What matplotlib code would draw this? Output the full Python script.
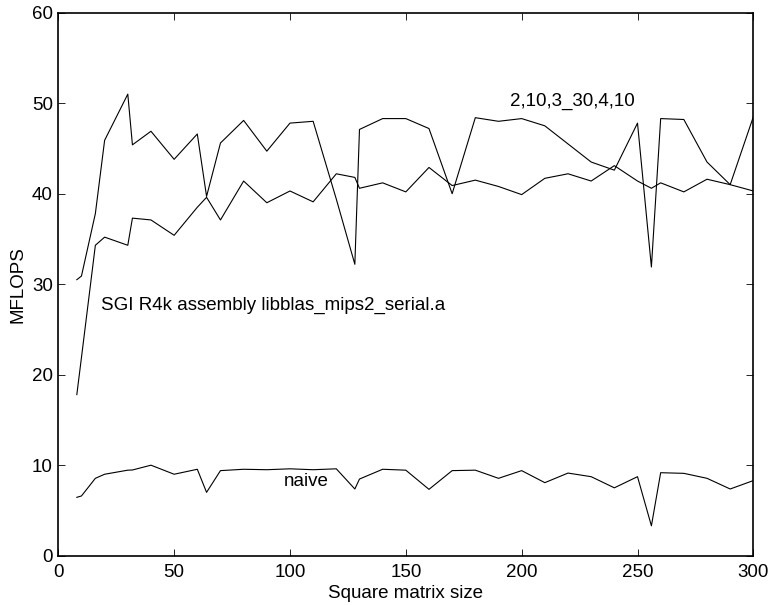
import matplotlib
matplotlib.use("Agg")
import matplotlib.pyplot as plt

plt.rcParams["font.family"] = ["Liberation Sans", "DejaVu Sans"]

# matrix sizes
n = [8, 10, 16, 20, 30, 32, 40, 50, 60, 64, 70, 80, 90, 100, 110, 120, 128, 130,
     140, 150, 160, 170, 180, 190, 200, 210, 220, 230, 240, 250, 256, 260, 270,
     280, 290, 300]

# tuned blocking 2,10,3_30,4,10
tuned = [30.5, 30.9, 37.8, 45.9, 51.0, 45.4, 46.9, 43.8, 46.6, 39.7, 45.6, 48.1,
         44.7, 47.8, 48.0, 39.4, 32.2, 47.1, 48.3, 48.3, 47.2, 40.0, 48.4, 48.0,
         48.3, 47.5, 45.5, 43.5, 42.6, 47.8, 31.9, 48.3, 48.2, 43.5, 41.0, 48.5]

# SGI assembly blas
sgi = [17.8, 21.9, 34.3, 35.2, 34.3, 37.3, 37.1, 35.4, 38.5, 39.6, 37.1, 41.4,
       39.0, 40.3, 39.1, 42.2, 41.8, 40.6, 41.2, 40.2, 42.9, 40.9, 41.5, 40.8,
       39.9, 41.7, 42.2, 41.4, 43.1, 41.4, 40.6, 41.2, 40.2, 41.6, 41.0, 40.3]

# naive triple loop
naive = [6.45, 6.6, 8.55, 9.0, 9.45, 9.47, 10.0, 9.0, 9.55, 7.0, 9.4, 9.55,
         9.5, 9.6, 9.5, 9.6, 7.37, 8.47, 9.55, 9.45, 7.33, 9.4, 9.45, 8.55,
         9.4, 8.07, 9.13, 8.73, 7.5, 8.73, 3.3, 9.17, 9.1, 8.55, 7.37, 8.3]

fig = plt.figure(figsize=(7.71, 6.05), dpi=100)
ax = fig.add_axes([0.0756, 0.0815, 0.9015, 0.8975])

for y in (tuned, sgi, naive):
    ax.plot(n, y, color="black", linewidth=0.8)

fs = 13.5
ax.text(195, 49.7, "2,10,3_30,4,10", fontsize=fs, va="baseline")
ax.text(18.3, 27.2, "SGI R4k assembly libblas_mips2_serial.a", fontsize=fs, va="baseline")
ax.text(97.2, 7.7, "naive", fontsize=fs, va="baseline")

ax.set_xlim(0, 300)
ax.set_ylim(0, 60)
ax.set_xticks(range(0, 301, 50))
ax.set_yticks(range(0, 61, 10))
ax.tick_params(direction="in", length=5, width=0.6, top=True, right=True, labelsize=fs)
ax.tick_params(axis="x", pad=6)
ax.tick_params(axis="y", pad=4)
for s in ax.spines.values():
    s.set_linewidth(1.2)

ax.set_xlabel("Square matrix size", fontsize=fs, labelpad=3)
ax.set_ylabel("MFLOPS", fontsize=fs, labelpad=4)

fig.savefig("out.png", dpi=100)
